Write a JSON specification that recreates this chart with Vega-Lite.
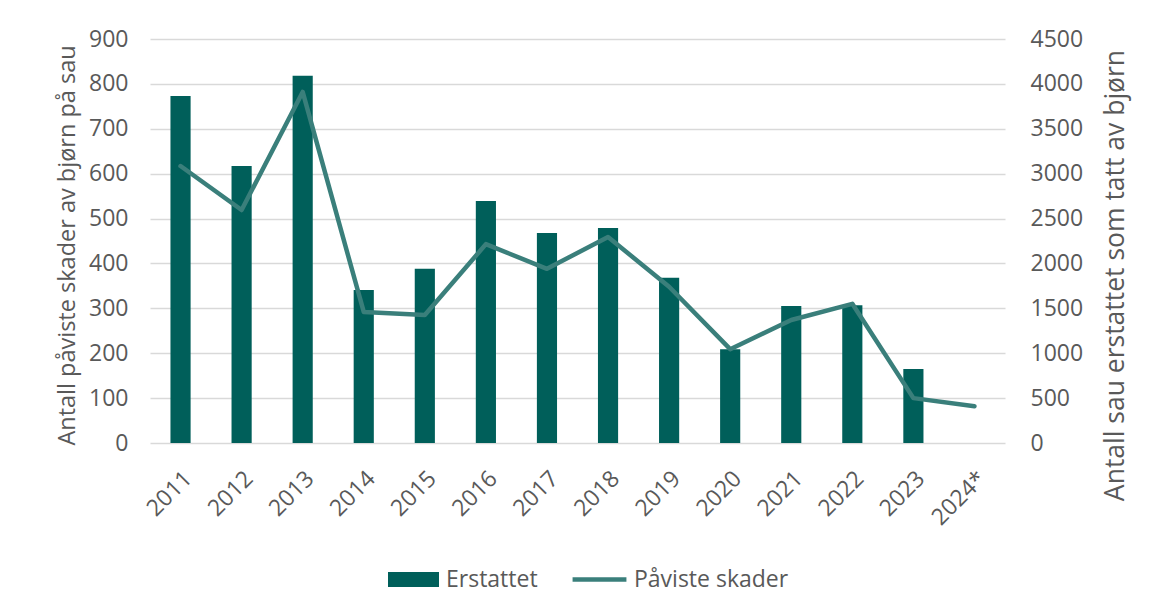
{
  "$schema": "https://vega.github.io/schema/vega-lite/v6.json",
  "width": 855,
  "height": 404,
  "autosize": {"type": "none"},
  "padding": {"left": 150, "top": 39, "right": 146, "bottom": 165},
  "background": "white",
  "config": {
    "font": "Open Sans",
    "view": {"stroke": null},
    "axis": {
      "labelColor": "#595959",
      "titleColor": "#595959",
      "labelFontSize": 23,
      "titleFontSize": 23.5,
      "titleFontWeight": "normal",
      "domain": false,
      "ticks": false,
      "gridColor": "#d9d9d9",
      "gridWidth": 1.5
    },
    "legend": {"labelColor": "#595959", "labelFontSize": 23}
  },
  "data": {
    "values": [
      {"year": "2011", "erstattet": 3865, "paviste": 617},
      {"year": "2012", "erstattet": 3085, "paviste": 519},
      {"year": "2013", "erstattet": 4090, "paviste": 782},
      {"year": "2014", "erstattet": 1705, "paviste": 292},
      {"year": "2015", "erstattet": 1940, "paviste": 285},
      {"year": "2016", "erstattet": 2695, "paviste": 443},
      {"year": "2017", "erstattet": 2340, "paviste": 388},
      {"year": "2018", "erstattet": 2395, "paviste": 459},
      {"year": "2019", "erstattet": 1840, "paviste": 348},
      {"year": "2020", "erstattet": 1045, "paviste": 209},
      {"year": "2021", "erstattet": 1525, "paviste": 274},
      {"year": "2022", "erstattet": 1535, "paviste": 310},
      {"year": "2023", "erstattet": 825, "paviste": 100},
      {"year": "2024*", "erstattet": null, "paviste": 82}
    ]
  },
  "encoding": {
    "x": {
      "field": "year",
      "type": "ordinal",
      "sort": null,
      "scale": {"paddingInner": 0.67, "paddingOuter": 0.335},
      "axis": {"title": null, "labelAngle": -45, "labelPadding": 24, "grid": false}
    }
  },
  "layer": [
    {
      "mark": {"type": "bar"},
      "encoding": {
        "y": {
          "field": "erstattet",
          "type": "quantitative",
          "scale": {"domain": [0, 4500]},
          "axis": {
            "orient": "right",
            "title": "Antall sau erstattet som tatt av bjørn",
            "values": [0, 500, 1000, 1500, 2000, 2500, 3000, 3500, 4000, 4500],
            "format": "d",
            "grid": false,
            "labelPadding": 25,
            "titleFontSize": 26.5,
            "titleAngle": -90,
            "titleX": 110,
            "titleY": 236,
            "titleAlign": "center",
            "titleBaseline": "middle"
          }
        },
        "fill": {
          "datum": "Erstattet",
          "scale": {"range": ["#005f5a"]},
          "legend": {
            "title": null,
            "orient": "none",
            "legendX": 238,
            "legendY": 515,
            "symbolType": "M-1,-0.294H1V0.294H-1Z",
            "symbolSize": 2601,
            "symbolStrokeWidth": 0,
            "labelOffset": 7
          }
        }
      }
    },
    {
      "mark": {"type": "line", "strokeWidth": 4.5, "strokeCap": "round", "strokeJoin": "round"},
      "encoding": {
        "y": {
          "field": "paviste",
          "type": "quantitative",
          "scale": {"domain": [0, 900]},
          "axis": {
            "orient": "left",
            "title": "Antall påviste skader av bjørn på sau",
            "values": [0, 100, 200, 300, 400, 500, 600, 700, 800, 900],
            "grid": true,
            "labelPadding": 22,
            "titleX": -83,
            "titleY": 206,
            "titleAngle": -90,
            "titleAlign": "center",
            "titleBaseline": "middle"
          }
        },
        "stroke": {
          "datum": "Påviste skader",
          "scale": {"range": ["#3a7f7b"]},
          "legend": {
            "title": null,
            "orient": "none",
            "legendX": 420,
            "legendY": 511,
            "symbolType": "stroke",
            "symbolSize": 2900,
            "symbolStrokeWidth": 4.5,
            "labelOffset": 5
          }
        }
      }
    }
  ],
  "resolve": {"scale": {"y": "independent"}}
}
